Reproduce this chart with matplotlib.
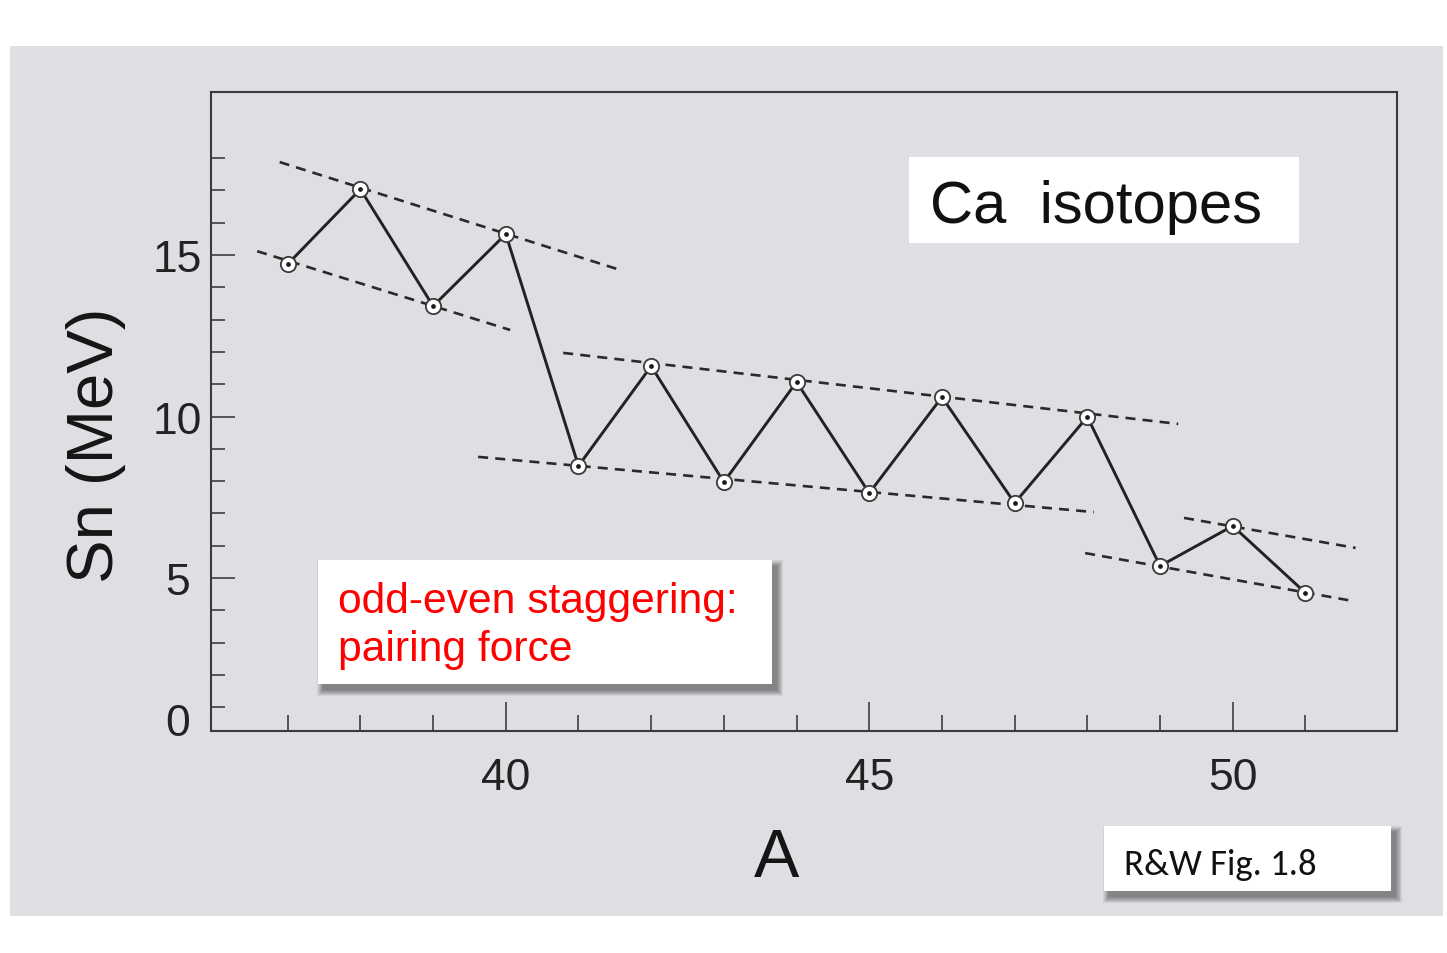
import matplotlib
matplotlib.use("Agg")
import matplotlib.pyplot as plt
from matplotlib import font_manager
from matplotlib.patches import Rectangle
import numpy as np

# neutron separation energies of the Ca isotopes
mass_number = [37, 38, 39, 40, 41, 42, 43, 44, 45, 46, 47, 48, 49, 50, 51]
sn_mev = [14.72, 17.04, 13.42, 15.65, 8.47, 11.56, 7.97, 11.07,
          7.63, 10.60, 7.32, 9.99, 5.37, 6.61, 4.54]

# dashed guide lines (start A, start Sn, end A, end Sn)
guide_lines = [
    (36.89, 17.88, 41.53, 14.57),
    (36.58, 15.12, 40.06, 12.68),
    (40.79, 11.97, 49.25, 9.77),
    (39.62, 8.75, 48.09, 7.04),
    (49.33, 6.86, 51.69, 5.93),
    (47.97, 5.77, 51.62, 4.30),
]

x_major = [40, 45, 50]
x_minor = [37, 38, 39, 41, 42, 43, 44, 46, 47, 48, 49, 51]
y_major = [5, 10, 15]
y_minor = [1, 2, 3, 4, 6, 7, 8, 9, 11, 12, 13, 14, 16, 17, 18]


def have_font(name):
    try:
        font_manager.findfont(font_manager.FontProperties(family=name),
                              fallback_to_default=False)
        return True
    except Exception:
        return False


SANS = "Liberation Sans"
CALIBRI = "Carlito" if have_font("Carlito") else "Lato"

W, H = 1447, 954
fig = plt.figure(figsize=(W / 100, H / 100), dpi=100, facecolor="white")


def fx(px):
    return px / W


def fy(py):
    return 1 - py / H


def box(x0, y0, x1, y1, shadow=False):
    # white box in pixel coords, with an optional soft drop shadow
    if shadow:
        dx, dy = 5, 6
        for k in range(9):
            fig.patches.append(Rectangle((fx(x0 + dx - k * 0.7),
                                          fy(y1 + dy + k * 0.7)),
                                         fx(x1 - x0 + 1.4 * k),
                                         (y1 - y0 + 1.4 * k) / H,
                                         transform=fig.transFigure,
                                         facecolor="#303030", edgecolor="none",
                                         alpha=0.075, zorder=3))
    fig.patches.append(Rectangle((fx(x0), fy(y1)), fx(x1 - x0), (y1 - y0) / H,
                                 transform=fig.transFigure, facecolor="white",
                                 edgecolor="none", zorder=4))


# gray backdrop panel
fig.patches.append(Rectangle((fx(10), fy(917)), fx(1433), 870 / H,
                             transform=fig.transFigure, facecolor="#dfdfe3",
                             edgecolor="none", zorder=-1))

ax = fig.add_axes([fx(211), fy(732), fx(1397 - 211), (732 - 93) / H])
ax.set_facecolor("#dfdfe3")
ax.set_xlim(35.945, 52.26)
ax.set_ylim(0.26, 20.05)

for x0, y0, x1, y1 in guide_lines:
    ax.plot([x0, x1], [y0, y1], color="#2a2a2a", lw=1.9,
            linestyle=(0, (3.8, 2.7)), zorder=2)

ax.plot(mass_number, sn_mev, color="#222222", lw=2.1, zorder=3)
ax.plot(mass_number, sn_mev, linestyle="none", marker="o", markersize=11,
        markerfacecolor="white", markeredgecolor="#3a3a3a",
        markeredgewidth=1.3, zorder=4)
ax.plot(mass_number, sn_mev, linestyle="none", marker="o", markersize=2.4,
        color="#1a1a1a", zorder=5)

for s in ax.spines.values():
    s.set_color("#3a3a3a")
    s.set_linewidth(1.5)

ax.set_xticks(x_major)
ax.set_xticks(x_minor, minor=True)
ax.set_yticks(y_major)
ax.set_yticks(y_minor, minor=True)
ax.tick_params(axis="x", which="major", direction="in", length=21, width=1.4,
               color="#555555", pad=19, labelsize=32, labelcolor="#222222")
ax.tick_params(axis="x", which="minor", direction="in", length=11.5, width=1.4,
               color="#555555")
ax.tick_params(axis="y", which="major", direction="in", length=17, width=1.4,
               color="#555555", pad=24, labelsize=32, labelcolor="#222222")
ax.tick_params(axis="y", which="minor", direction="in", length=10, width=1.4,
               color="#555555")
for lab in ax.get_xticklabels() + ax.get_yticklabels():
    lab.set_fontfamily(SANS)
for lab in ax.get_yticklabels():
    lab.set_horizontalalignment("center")
fig.text(fx(178), fy(725), "0", ha="center", va="center", fontsize=32,
         color="#222222", family=SANS)

# axis titles
fig.text(fx(96), fy(445), "Sn (MeV)", rotation=90, ha="center",
         va="center", fontsize=47, color="#151515", family=SANS)
fig.text(fx(777), fy(877), "A", ha="center", va="baseline", fontsize=49,
         color="#151515", family=SANS)

# annotation boxes
box(909, 158, 1299, 244)
fig.text(fx(930), fy(223), "Ca  isotopes", ha="left", va="baseline",
         fontsize=43, color="#111111", family=SANS, zorder=5)

box(318, 561, 772, 685, shadow=True)
fig.text(fx(338), fy(613), "odd-even staggering:", ha="left", va="baseline",
         fontsize=30.7, color="#ff0000", family=SANS, zorder=5)
fig.text(fx(338), fy(661), "pairing force", ha="left", va="baseline",
         fontsize=30.7, color="#ff0000", family=SANS, zorder=5)

box(1104, 827, 1391, 892, shadow=True)
fig.text(fx(1124), fy(875), "R&W Fig. 1.8", ha="left", va="baseline",
         fontsize=26.5, color="#111111", family=CALIBRI, zorder=5)

fig.savefig("out.png", dpi=100, facecolor="white")
